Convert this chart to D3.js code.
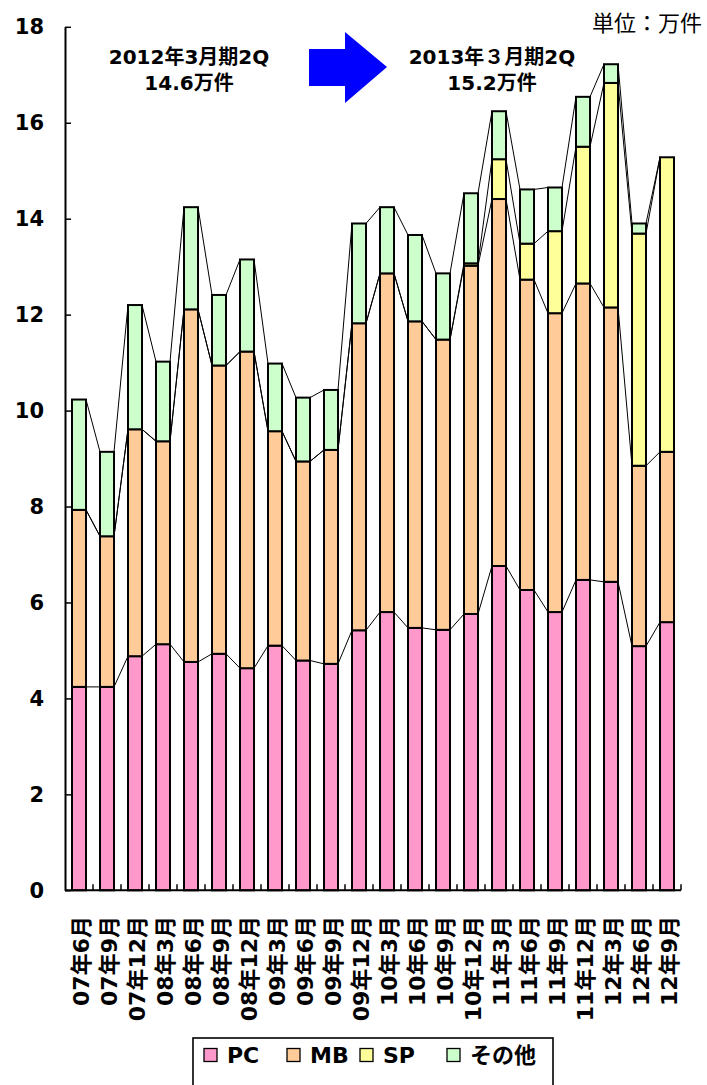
<!DOCTYPE html>
<html>
<head>
<meta charset="utf-8">
<script src="https://cdn.jsdelivr.net/npm/d3@7/dist/d3.min.js"></script>
<style>
  body { margin: 0; background: #fff; }
  svg { display: block; }
  text { font-family: "DejaVu Sans", "Noto Sans CJK JP", sans-serif; }
</style>
</head>
<body>
<svg width="707" height="1085"></svg>
<script>
// quarters
var categories = ["07年6月","07年9月","07年12月","08年3月","08年6月","08年9月","08年12月",
    "09年3月","09年6月","09年9月","09年12月","10年3月","10年6月","10年9月","10年12月",
    "11年3月","11年6月","11年9月","11年12月","12年3月","12年6月","12年9月"];

// values in 万件
var pc    = [4.24,4.24,4.88,5.13,4.76,4.93,4.63,5.10,4.79,4.72,5.42,5.80,5.47,5.43,5.76,6.76,6.26,5.80,6.47,6.43,5.09,5.59];
var mb    = [3.69,3.14,4.73,4.23,7.35,6.01,6.60,4.47,4.15,4.46,6.40,7.06,6.39,6.05,7.26,7.65,6.47,6.23,6.18,5.72,3.76,3.55];
var sp    = [0,0,0,0,0,0,0,0,0,0,0,0,0,0,0.05,0.83,0.75,1.71,2.85,4.68,4.84,6.14];
var other = [2.30,1.76,2.59,1.66,2.13,1.47,1.92,1.41,1.33,1.25,2.08,1.38,1.80,1.38,1.46,1.00,1.13,0.91,1.04,0.39,0.21,0];

var seriesNames = ["PC","MB","SP","その他"];
var seriesColors = ["#FF99CC","#FFCC99","#FFFF99","#CCFFCC"];
var yTicks = [0,2,4,6,8,10,12,14,16,18];

var svg = d3.select("svg");

var x = d3.scaleBand().domain(categories).range([65, 681]).paddingInner(0.5).paddingOuter(0.25);
var y = d3.scaleLinear().domain([0, 18]).range([890.3, 26.8]);

var rows = categories.map(function(c, i){
    return {cat: c, PC: pc[i], MB: mb[i], SP: sp[i], "その他": other[i]};
});
var stacked = d3.stack().keys(seriesNames)(rows);

// bars
var layer = svg.selectAll("g.layer")
    .data(stacked)
    .enter().append("g")
    .attr("class", "layer")
    .attr("fill", function(d, i){ return seriesColors[i]; });

layer.selectAll("rect")
    .data(function(d){ return d.filter(function(s){ return s[1] - s[0] > 0; }); })
    .enter().append("rect")
    .attr("x", function(d){ return x(d.data.cat); })
    .attr("y", function(d){ return y(d[1]); })
    .attr("width", x.bandwidth())
    .attr("height", function(d){ return y(d[0]) - y(d[1]); })
    .attr("stroke", "#000")
    .attr("stroke-width", 2);

// series lines between bars
stacked.forEach(function(s){
    for (var i = 0; i < s.length - 1; i++) {
        svg.append("line")
            .attr("x1", x(categories[i]) + x.bandwidth())
            .attr("y1", y(s[i][1]))
            .attr("x2", x(categories[i + 1]))
            .attr("y2", y(s[i + 1][1]))
            .attr("stroke", "#000")
            .attr("stroke-width", 1);
    }
});

// y axis
var yAxis = d3.axisLeft(y).tickValues(yTicks).tickSizeInner(-6).tickSizeOuter(0).tickPadding(21);
var gy = svg.append("g").attr("transform", "translate(65,0)").call(yAxis);
gy.select(".domain").attr("stroke-width", 2);
gy.selectAll(".tick line").attr("stroke-width", 1.5);
gy.selectAll("text").attr("font-size", 21).attr("font-weight", "bold").attr("fill", "#000")
    .style("font-family", "'DejaVu Sans', sans-serif");

// x axis line and ticks at band edges
var step = x.step();
var gap = (step - x.bandwidth()) / 2;
svg.append("line")
    .attr("x1", 65).attr("x2", 681)
    .attr("y1", y(0)).attr("y2", y(0))
    .attr("stroke", "#000").attr("stroke-width", 2);
svg.selectAll("line.xtick")
    .data(categories)
    .enter().append("line")
    .attr("class", "xtick")
    .attr("x1", function(d){ return x(d) + x.bandwidth() + gap; })
    .attr("x2", function(d){ return x(d) + x.bandwidth() + gap; })
    .attr("y1", y(0)).attr("y2", y(0) - 6)
    .attr("stroke", "#000").attr("stroke-width", 1.5);

// x labels (rotated)
svg.selectAll("text.xlab")
    .data(categories)
    .enter().append("text")
    .attr("class", "xlab")
    .attr("transform", function(d){
        return "translate(" + (x(d) + x.bandwidth() / 2 + 2) + ",916) rotate(-90)";
    })
    .attr("dy", "0.36em")
    .attr("text-anchor", "end")
    .attr("font-size", 22)
    .attr("font-weight", "bold")
    .text(function(d){ return d; });

// unit label
svg.append("text")
    .attr("x", 702).attr("y", 23).attr("dy", "0.36em")
    .attr("text-anchor", "end")
    .attr("font-size", 22)
    .style("font-family", "'Noto Sans CJK JP', sans-serif")
    .text("単位：万件");

// annotations
var notes = [
    {x: 189, lines: ["2012年3月期2Q", "14.6万件"]},
    {x: 492, lines: ["2013年３月期2Q", "15.2万件"]}
];
notes.forEach(function(n){
    n.lines.forEach(function(t, j){
        svg.append("text")
            .attr("x", n.x).attr("y", 57 + j * 26).attr("dy", "0.36em")
            .attr("text-anchor", "middle")
            .attr("font-size", 20)
            .attr("font-weight", "bold")
            .text(t);
    });
});

svg.append("polygon")
    .attr("points", "309,49 345,49 345,32 387,67 345,103 345,86 309,86")
    .attr("fill", "#0000FF");

// legend
svg.append("rect")
    .attr("x", 193).attr("y", 1038).attr("width", 360).attr("height", 70)
    .attr("fill", "#fff").attr("stroke", "#000").attr("stroke-width", 1.6);

var legendX = [204, 287, 360, 447];
var leg = svg.selectAll("g.leg")
    .data(seriesNames)
    .enter().append("g")
    .attr("class", "leg")
    .attr("transform", function(d, i){ return "translate(" + legendX[i] + ",1055)"; });
leg.append("rect")
    .attr("x", 0).attr("y", -6.5).attr("width", 13).attr("height", 13)
    .attr("fill", function(d, i){ return seriesColors[i]; })
    .attr("stroke", "#000").attr("stroke-width", 1.3);
leg.append("text")
    .attr("x", 23).attr("dy", "0.36em")
    .attr("font-size", 22).attr("font-weight", "bold")
    .text(function(d){ return d; });
</script>
</body>
</html>
